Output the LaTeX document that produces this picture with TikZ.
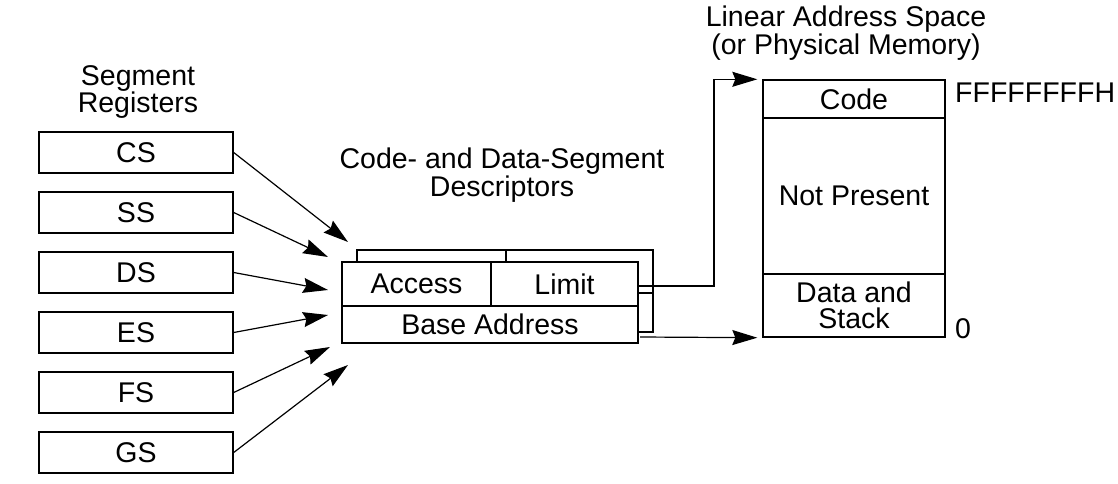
\documentclass[tikz,border=0pt]{standalone}
\usepackage{fontspec}
\setmainfont{Liberation Sans}
\usetikzlibrary{arrows.meta}

\begin{document}
\begin{tikzpicture}[x=1pt,y=1pt,yscale=-1,xscale=1,
  every node/.style={font=\fontsize{28.5}{26}\selectfont},
  box/.style={draw,line width=1.4pt,fill=white,inner sep=0pt},
  reg/.style={box,minimum width=194,minimum height=41},
  lbl/.style={align=center,inner sep=0pt},
  arr/.style={line width=1.2pt,-{Stealth[length=25pt,width=15pt,inset=3pt]}}]
\useasboundingbox (0,0) rectangle (1118,484);

%Shape: Segment registers
\node[reg] (cs) at (136,152.5) {CS};
\node[reg] (ss) at (136,212.5) {SS};
\node[reg] (ds) at (136,272.5) {DS};
\node[reg] (es) at (136,332.5) {ES};
\node[reg] (fs) at (136,392.5) {FS};
\node[reg] (gs) at (136,452.5) {GS};

%Shape: Descriptor behind
\draw[line width=1.4pt] (357,262) -- (357,250) -- (653,250) -- (653,332) -- (638,332);
\draw[line width=1.4pt] (506,250) -- (506,262);
\draw[line width=1.4pt] (638,293) -- (653,293);

%Shape: Descriptor in front
\node[box,minimum width=149,minimum height=44] (access) at (416.5,284) {Access};
\node[box,minimum width=147,minimum height=44] (limit) at (564.5,284) {Limit};
\node[box,minimum width=296,minimum height=37] (base) at (490,324.5) {Base Address};

%Shape: Linear address space
\node[box,minimum width=182,minimum height=38] (code) at (854,99) {Code};
\node[box,minimum width=182,minimum height=156] (notpresent) at (854,196) {Not Present};
\node[box,minimum width=182,minimum height=63,align=center] (datastack) at (854,305.5) {Data and\\Stack};

%Arrow ends at the descriptor
\coordinate (tcs) at (348,242);
\coordinate (tss) at (328,257);
\coordinate (tds) at (328,290);
\coordinate (tes) at (328,315);
\coordinate (tfs) at (330,347);
\coordinate (tgs) at (348,365);

%Straight Lines
\draw[arr] (cs.east) -- (tcs);
\draw[arr] (ss.east) -- (tss);
\draw[arr] (ds.east) -- (tds);
\draw[arr] (es.east) -- (tes);
\draw[arr] (fs.east) -- (tfs);
\draw[arr] (gs.east) -- (tgs);

\coordinate (lout) at (638,286);
\coordinate (bout) at (640,337);
\draw[arr] (lout) -- (714,286) |- ([xshift=-5]code.north west);
\draw[arr] (bout) -- ([xshift=-5]datastack.south west);

% Text Node
\node[lbl] (segtitle) at (138,92) {Segment\\Registers};
% Text Node
\node[lbl] (desctitle) at (502,175) {Code- and Data-Segment\\Descriptors};
% Text Node
\node[lbl] (lintitle) at (846,33) {Linear Address Space\\(or Physical Memory)};
% Text Node
\node[lbl,anchor=west] (top) at (955,93) {FFFFFFFFH};
% Text Node
\node[lbl,anchor=west] (bottom) at (955,329) {0};

\end{tikzpicture}
\end{document}
